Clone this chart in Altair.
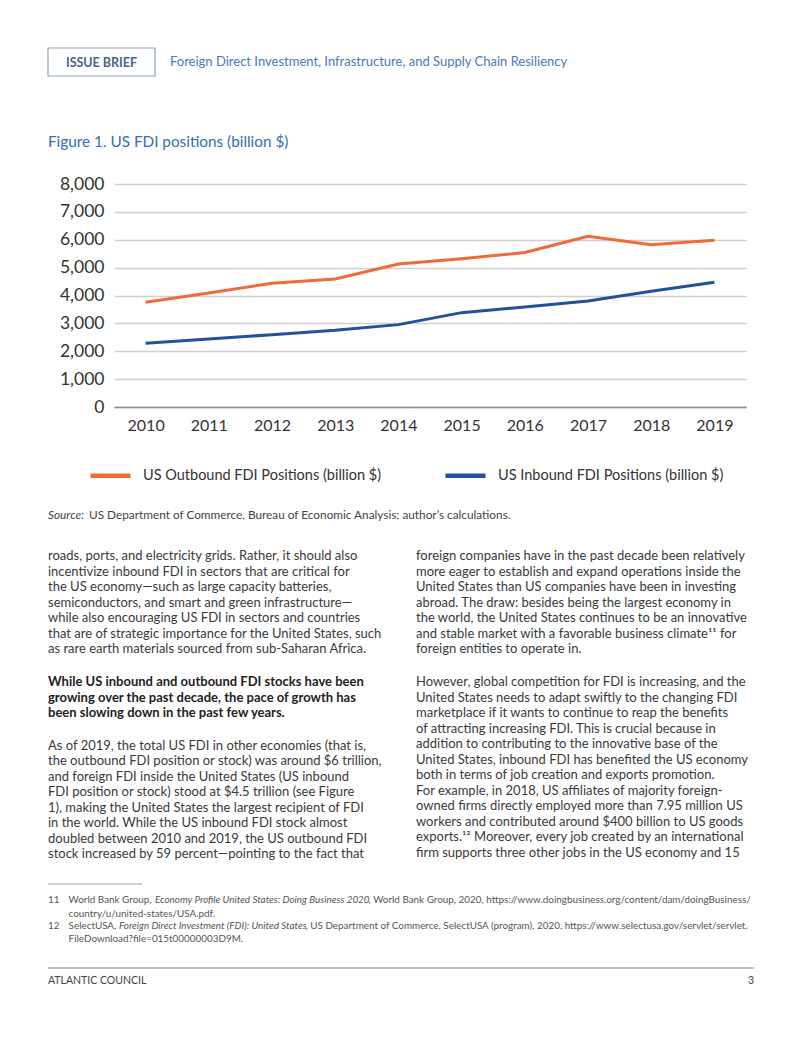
import altair as alt
import pandas as pd

# ---------------- data ----------------
years = ["2010", "2011", "2012", "2013", "2014", "2015", "2016", "2017", "2018", "2019"]
outbound = [3756, 4090, 4440, 4590, 5130, 5320, 5540, 6125, 5825, 5980]
inbound = [2285, 2440, 2596, 2750, 2955, 3385, 3590, 3805, 4150, 4475]
series_names = ["US Outbound FDI Positions (billion $)", "US Inbound FDI Positions (billion $)"]
series_colors = ["#EE6B3B", "#23509B"]
y_ticks = [0, 1000, 2000, 3000, 4000, 5000, 6000, 7000, 8000]

badge_text = "ISSUE BRIEF"
header_text = "Foreign Direct Investment, Infrastructure, and Supply Chain Resiliency"
figure_title = "Figure 1. US FDI positions (billion $)"
source_label = "Source:"
source_text = "US Department of Commerce, Bureau of Economic Analysis; author’s calculations."

left_par1 = [
    "roads, ports, and electricity grids. Rather, it should also",
    "incentivize inbound FDI in sectors that are critical for",
    "the US economy—such as large capacity batteries,",
    "semiconductors, and smart and green infrastructure—",
    "while also encouraging US FDI in sectors and countries",
    "that are of strategic importance for the United States, such",
    "as rare earth materials sourced from sub-Saharan Africa.",
]
left_bold = [
    "While US inbound and outbound FDI stocks have been",
    "growing over the past decade, the pace of growth has",
    "been slowing down in the past few years.",
]
left_par2 = [
    "As of 2019, the total US FDI in other economies (that is,",
    "the outbound FDI position or stock) was around $6 trillion,",
    "and foreign FDI inside the United States (US inbound",
    "FDI position or stock) stood at $4.5 trillion (see Figure",
    "1), making the United States the largest recipient of FDI",
    "in the world. While the US inbound FDI stock almost",
    "doubled between 2010 and 2019, the US outbound FDI",
    "stock increased by 59 percent—pointing to the fact that",
]
right_par1 = [
    "foreign companies have in the past decade been relatively",
    "more eager to establish and expand operations inside the",
    "United States than US companies have been in investing",
    "abroad. The draw: besides being the largest economy in",
    "the world, the United States continues to be an innovative",
    "and stable market with a favorable business climate¹¹ for",
    "foreign entities to operate in.",
]
right_par2 = [
    "However, global competition for FDI is increasing, and the",
    "United States needs to adapt swiftly to the changing FDI",
    "marketplace if it wants to continue to reap the benefits",
    "of attracting increasing FDI. This is crucial because in",
    "addition to contributing to the innovative base of the",
    "United States, inbound FDI has benefited the US economy",
    "both in terms of job creation and exports promotion.",
    "For example, in 2018, US affiliates of majority foreign-",
    "owned firms directly employed more than 7.95 million US",
    "workers and contributed around $400 billion to US goods",
    "exports.¹² Moreover, every job created by an international",
    "firm supports three other jobs in the US economy and 15",
]
fn11_num = "11"
fn11_a = "World Bank Group,"
fn11_b = "Economy Profile United States: Doing Business 2020"
fn11_c = ", World Bank Group, 2020, https://www.doingbusiness.org/content/dam/doingBusiness/"
fn11_d = "country/u/united-states/USA.pdf."
fn12_num = "12"
fn12_a = "SelectUSA,"
fn12_b = "Foreign Direct Investment (FDI): United States"
fn12_c = ", US Department of Commerce, SelectUSA (program), 2020,  https://www.selectusa.gov/servlet/servlet."
fn12_d = "FileDownload?file=015t00000003D9M."
footer_left = "ATLANTIC COUNCIL"
footer_right = "3"

# ---------------- layout ----------------
FONT = "Lato"
BODY = "#3a3a3a"
NOTE = "#555555"
BLUE_TXT = "#3470B2"
OX, OY = 114, 184          # plot origin on the page
PW, PH = 632, 223           # plot size
PAGE_W, PAGE_H = 786, 1021

rows = []
for name, vals in zip(series_names, [outbound, inbound]):
    for yr, v in zip(years, vals):
        rows.append({"year": yr, "value": v, "series": name})
df = pd.DataFrame(rows)

lines = alt.Chart(df).mark_line(strokeWidth=3, strokeCap="butt").encode(
    x=alt.X("year:O", scale=alt.Scale(padding=0.5),
            axis=alt.Axis(labelAngle=0, title=None, ticks=False, grid=False,
                          domainColor="#8c8c8c", domainWidth=1.5,
                          labelFontSize=16, labelColor="#333333", labelPadding=10,
                          labelFont=FONT)),
    y=alt.Y("value:Q", scale=alt.Scale(domain=[0, 8000], nice=False),
            axis=alt.Axis(values=y_ticks, format=",d", title=None, ticks=False,
                          domain=False, gridColor="#d0d0d0", gridWidth=1.5,
                          labelFontSize=17.5, labelColor="#333333", labelPadding=10,
                          labelFont=FONT)),
    color=alt.Color("series:N",
                    scale=alt.Scale(domain=series_names, range=series_colors),
                    legend=alt.Legend(orient="none", direction="horizontal",
                                      legendX=88 - OX, legendY=453 - OY,
                                      title=None, symbolType="stroke",
                                      symbolSize=1600, symbolStrokeWidth=4.5,
                                      labelFontSize=14.5, labelFont=FONT,
                                      labelColor="#333333", labelOffset=10,
                                      labelLimit=600,
                                      columnPadding=54, padding=0)),
)

ONE = alt.Data(values=[{"k": 0}])


def txt(content, px, py, size=13, color=BODY, weight="normal", style="normal",
        lh=15.5, align="left", baseline="alphabetic", font=FONT):
    return alt.Chart(ONE).mark_text(
        text=content, align=align, baseline=baseline, fontSize=size, font=font,
        fontWeight=weight, fontStyle=style, color=color, lineHeight=lh,
    ).encode(x=alt.value(px - OX), y=alt.value(py - OY))


def hrule(x1, x2, y, color, w):
    return alt.Chart(ONE).mark_rule(color=color, strokeWidth=w).encode(
        x=alt.value(x1 - OX), x2=alt.value(x2 - OX), y=alt.value(y - OY))


badge_box = alt.Chart(ONE).mark_rect(fillOpacity=0, stroke="#8DA4C1", strokeWidth=1.2).encode(
    x=alt.value(48 - OX), x2=alt.value(155 - OX), y=alt.value(48 - OY), y2=alt.value(76 - OY))

FN = 9.9
layers = [
    lines,
    badge_box,
    txt(badge_text, 101.5, 62.5, size=12.5, color="#46658F", weight="bold", align="center", baseline="middle"),
    txt(header_text, 170, 62, size=13, color="#4A7AB5", baseline="middle"),
    txt(figure_title, 48, 142, size=15.3, color=BLUE_TXT, baseline="middle"),
    txt(source_label, 48, 519, size=11.8, color="#444444", style="italic"),
    txt(source_text, 89, 519, size=11.8, color="#444444"),
    txt(left_par1, 48, 560),
    txt(left_bold, 48, 686, weight="bold", color="#222222"),
    txt(left_par2, 48, 749.5),
    txt(right_par1, 416, 560),
    txt(right_par2, 416, 686),
    hrule(48, 142, 884, "#8a8a8a", 0.8),
    txt(fn11_num, 48, 903, size=FN, color=NOTE),
    txt(fn11_a, 68.6, 903, size=FN, color=NOTE),
    txt(fn11_b, 155, 903, size=FN, color=NOTE, style="italic"),
    txt(fn11_c, 368.5, 903, size=FN, color=NOTE),
    txt(fn11_d, 68.6, 917, size=FN, color=NOTE),
    txt(fn12_num, 48, 929, size=FN, color=NOTE),
    txt(fn12_a, 68.6, 929, size=FN, color=NOTE),
    txt(fn12_b, 119, 929, size=FN, color=NOTE, style="italic"),
    txt(fn12_c, 305.5, 929, size=FN, color=NOTE),
    txt(fn12_d, 68.6, 942, size=FN, color=NOTE),
    hrule(48, 754, 968, "#7a7a7a", 1),
    txt(footer_left, 48, 984, size=10.5, color="#444444"),
    txt(footer_right, 754, 984, size=10.5, color="#444444", align="right"),
]

chart = alt.layer(*layers).properties(
    width=PW, height=PH,
    autosize=alt.AutoSizeParams(type="none"),
    padding={"left": OX - 8, "top": OY - 8, "right": PAGE_W - (OX - 8) - PW,
             "bottom": PAGE_H - (OY - 8) - PH},
    background="white",
).configure_view(stroke=None)

chart.save("out.html", embed_options={"renderer": "svg", "actions": False})
